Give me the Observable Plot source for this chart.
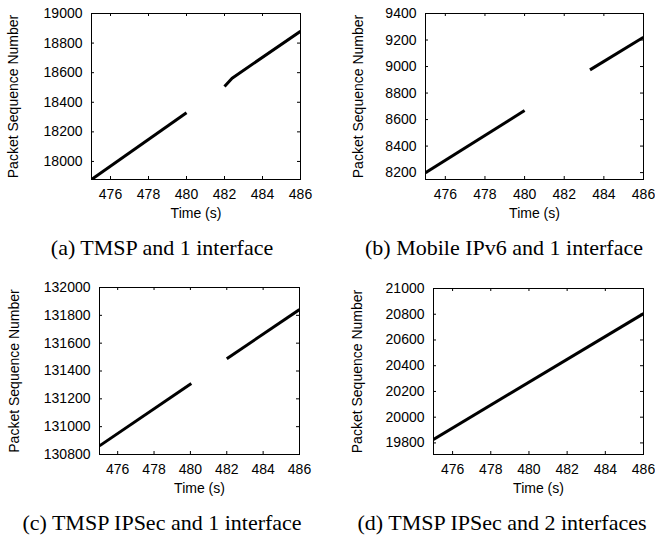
<!DOCTYPE html>
<html>
<head>
<meta charset="utf-8">
<script src="https://cdn.jsdelivr.net/npm/d3@7"></script>
<script src="https://cdn.jsdelivr.net/npm/@observablehq/plot@0.6"></script>
<style>
  body { margin: 0; background: #fff; }
  #root { position: relative; width: 655px; height: 538px; overflow: hidden; background: #fff; }
  .panel { position: absolute; }
  .caption { position: absolute; font-family: "Liberation Serif", "Times New Roman", serif; font-size: 22px; color: #000; white-space: nowrap; transform: translateX(-50%); line-height: 1; }
</style>
</head>
<body>
<div id="root"></div>
<script>
// ---- data ----
const xTicks = [476, 478, 480, 482, 484, 486];
const xDomain = [475, 486];
const xLabel = "Time (s)";
const yLabel = "Packet Sequence Number";

const captions = [
  "(a) TMSP and 1 interface",
  "(b) Mobile IPv6 and 1 interface",
  "(c) TMSP IPSec and 1 interface",
  "(d) TMSP IPSec and 2 interfaces"
];

// (a) TMSP and 1 interface
const aTime = [475, 480.0, 482.0, 482.4, 486];
const aSeq = [17878, 18329, 18507, 18563, 18880];
const aSegment = [1, 1, 2, 2, 2];
const aYDomain = [17878, 19000];
const aYTicks = [18000, 18200, 18400, 18600, 18800, 19000];

// (b) Mobile IPv6 and 1 interface
const bTime = [475, 480.0, 483.3, 486];
const bSeq = [8200, 8668, 8975, 9221];
const bSegment = [1, 1, 2, 2];
const bYDomain = [8148, 9400];
const bYTicks = [8200, 8400, 8600, 8800, 9000, 9200, 9400];

// (c) TMSP IPSec and 1 interface
const cTime = [475, 480.05, 482.0, 486];
const cSeq = [130862, 131310, 131488, 131842];
const cSegment = [1, 1, 2, 2];
const cYDomain = [130800, 132000];
const cYTicks = [130800, 131000, 131200, 131400, 131600, 131800, 132000];

// (d) TMSP IPSec and 2 interfaces
const dTime = [475, 486];
const dSeq = [19827, 20805];
const dSegment = [1, 1];
const dYDomain = [19710, 21000];
const dYTicks = [19800, 20000, 20200, 20400, 20600, 20800, 21000];

// ---- layout (positions/sizes) ----
const layouts = [
  {left: 0,   top: 0,   width: 330, height: 225, mt: 13, mr: 30, mb: 46, ml: 91,  ylabDx: -78, capX: 162, capTop: 237},
  {left: 330, top: 0,   width: 325, height: 225, mt: 13, mr: 12, mb: 46, ml: 95,  ylabDx: -67, capX: 504, capTop: 237},
  {left: 0,   top: 274, width: 330, height: 225, mt: 13, mr: 31, mb: 45, ml: 99,  ylabDx: -85, capX: 162, capTop: 512},
  {left: 330, top: 275, width: 325, height: 225, mt: 13, mr: 12, mb: 46, ml: 103, ylabDx: -76, capX: 502, capTop: 512}
];

const panels = [
  {time: aTime, seq: aSeq, seg: aSegment, yDomain: aYDomain, yTicks: aYTicks},
  {time: bTime, seq: bSeq, seg: bSegment, yDomain: bYDomain, yTicks: bYTicks},
  {time: cTime, seq: cSeq, seg: cSegment, yDomain: cYDomain, yTicks: cYTicks},
  {time: dTime, seq: dSeq, seg: dSegment, yDomain: dYDomain, yTicks: dYTicks}
];

const root = document.getElementById("root");
const tickLen = 3;

panels.forEach((p, i) => {
  const L = layouts[i];
  const fw = L.width - L.ml - L.mr;
  const fh = L.height - L.mt - L.mb;
  const rows = p.time.map((t, j) => ({t, s: p.seq[j], g: p.seg[j]}));
  const chart = Plot.plot({
    width: L.width,
    height: L.height,
    marginTop: L.mt, marginRight: L.mr, marginBottom: L.mb, marginLeft: L.ml,
    style: {fontFamily: "'Liberation Sans', Arial, Helvetica, sans-serif", fontSize: "14px", background: "transparent", color: "#000", overflow: "visible"},
    x: {domain: xDomain},
    y: {domain: p.yDomain},
    marks: [
      // inward tick marks on all four sides
      Plot.tickX(xTicks, {x: d => d, insetTop: fh - tickLen, stroke: "#000", strokeWidth: 1}),
      Plot.tickX(xTicks, {x: d => d, insetBottom: fh - tickLen, stroke: "#000", strokeWidth: 1}),
      Plot.tickY(p.yTicks, {y: d => d, insetRight: fw - tickLen, stroke: "#000", strokeWidth: 1}),
      Plot.tickY(p.yTicks, {y: d => d, insetLeft: fw - tickLen, stroke: "#000", strokeWidth: 1}),
      Plot.axisX({ticks: xTicks, tickSize: 0, tickPadding: 10, tickFormat: d => String(d), label: null, fill: "#000"}),
      Plot.axisY({ticks: p.yTicks, tickSize: 0, tickPadding: 9, tickFormat: d => String(d), label: null, fill: "#000"}),
      Plot.line(rows, {x: "t", y: "s", z: "g", stroke: "#000", strokeWidth: 3, strokeLinecap: "butt", strokeLinejoin: "round", clip: true}),
      Plot.frame({stroke: "#000", strokeWidth: 1}),
      Plot.text([xLabel], {text: d => d, frameAnchor: "bottom", dy: 38, fill: "#000"}),
      Plot.text([yLabel], {text: d => d, frameAnchor: "left", textAnchor: "middle", rotate: -90, dx: L.ylabDx, fill: "#000"})
    ]
  });
  chart.classList.add("panel");
  chart.style.left = L.left + "px";
  chart.style.top = L.top + "px";
  chart.style.maxWidth = "none";
  root.appendChild(chart);

  const cap = document.createElement("div");
  cap.className = "caption";
  cap.textContent = captions[i];
  cap.style.left = L.capX + "px";
  cap.style.top = L.capTop + "px";
  root.appendChild(cap);
});
</script>
</body>
</html>
